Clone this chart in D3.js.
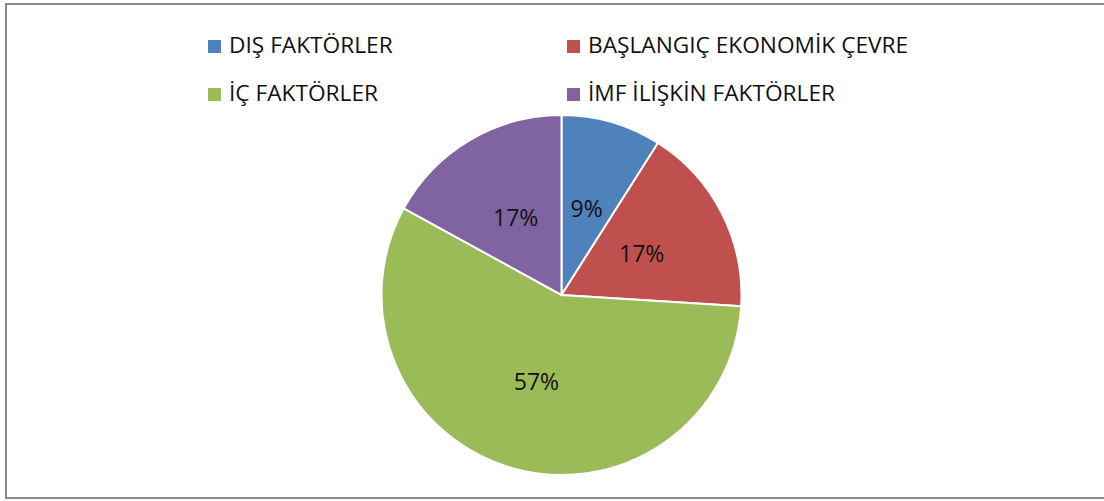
<!DOCTYPE html>
<html lang="tr">
<head>
    <meta charset="UTF-8">
    <title>Faktörler</title>
    <script src="https://d3js.org/d3.v7.min.js"></script>
    <style>
        body{
            margin: 0;
            background-color: white;
        }
        #canvas{
            display: block;
            font-family: "Open Sans", sans-serif;
        }
        path.slice{
            stroke: white;
            stroke-width: 2px;
        }
    </style>
</head>
<body>
    <svg id="canvas" width="1104" height="501"></svg>
    <script>
        // chart data
        let categories = ['DIŞ FAKTÖRLER', 'BAŞLANGIÇ EKONOMİK ÇEVRE', 'İÇ FAKTÖRLER', 'İMF İLİŞKİN FAKTÖRLER'];
        let values = [9, 17, 57, 17];
        let labels = ['9%', '17%', '57%', '17%'];
        let colors = ['#4F81BD', '#C0504D', '#9BBB59', '#8064A2'];

        let svg = d3.select('#canvas');

        // outer frame of the chart
        svg.append('rect')
            .attr('x', 6)
            .attr('y', 4)
            .attr('width', 1110)
            .attr('height', 494)
            .attr('fill', 'white')
            .attr('stroke', '#8a8a8a')
            .attr('stroke-width', 2);

        let cx = 561.5, cy = 295, radius = 180;

        let rows = categories.map(function(c, i){
            return {name: c, value: values[i], label: labels[i], color: colors[i]};
        });

        let pie = d3.pie()
            .sort(null)
            .value(function(d){ return d.value; });
        let arc = d3.arc().innerRadius(0).outerRadius(radius);
        let labelArc = d3.arc().innerRadius(radius * 0.5).outerRadius(radius * 0.5);

        let pieG = svg.append('g')
            .attr('transform', 'translate(' + cx + ',' + cy + ')');

        let arcs = pie(rows);

        pieG.selectAll('path')
            .data(arcs)
            .enter()
            .append('path')
            .attr('class', 'slice')
            .attr('d', arc)
            .attr('fill', function(d){ return d.data.color; });

        pieG.selectAll('text')
            .data(arcs)
            .enter()
            .append('text')
            .attr('transform', function(d){ return 'translate(' + labelArc.centroid(d) + ')'; })
            .attr('text-anchor', 'middle')
            .attr('dy', '0.36em')
            .style('font-size', '23px')
            .style('fill', '#111')
            .text(function(d){ return d.data.label; });

        // legend - two columns, two rows
        let legendX = d3.scaleOrdinal().domain([0, 1]).range([208, 567]);
        let legendY = d3.scaleOrdinal().domain([0, 1]).range([53, 101]);

        let legend = svg.append('g').attr('id', 'legend');
        let items = legend.selectAll('g')
            .data(rows)
            .enter()
            .append('g')
            .attr('transform', function(d, i){
                return 'translate(' + legendX(i % 2) + ',' + legendY(Math.floor(i / 2)) + ')';
            });
        items.append('rect')
            .attr('x', 0)
            .attr('y', -13)
            .attr('width', 13)
            .attr('height', 13)
            .attr('fill', function(d){ return d.color; });
        items.append('text')
            .attr('x', 21)
            .attr('y', 0)
            .style('font-size', '22.7px')
            .style('fill', '#111')
            .text(function(d){ return d.name; });
    </script>
</body>
</html>
